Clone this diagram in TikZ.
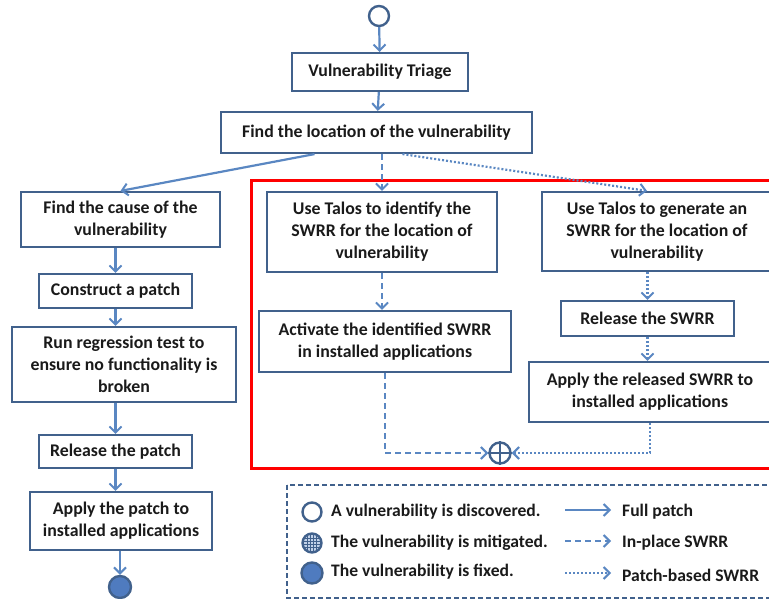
\documentclass[tikz,border=0pt]{standalone}
\usepackage{fontspec}
\setmainfont{Carlito}
\usetikzlibrary{arrows.meta}
\definecolor{boxline}{HTML}{41618C}
\definecolor{flow}{HTML}{5A87C2}
\definecolor{dot}{HTML}{4F7BBF}
\definecolor{ink}{HTML}{1A1A1A}
\tikzset{
  box/.style={draw=boxline, line width=2.2pt, fill=white, align=center,
    font=\fontsize{17.8}{22}\selectfont\bfseries, text=ink, inner sep=0pt},
  flowtip/.style={-{Straight Barb[length=6pt,width=12pt,line width=2pt]}},
  full/.style={flowtip, draw=flow, line width=2.2pt},
  inplace/.style={flowtip, draw=flow, line width=2.2pt, dash pattern=on 6pt off 4pt},
  patchbased/.style={flowtip, draw=flow, line width=2.2pt, dash pattern=on 2pt off 2pt},
  state/.style={circle, draw=boxline, line width=2.4pt, inner sep=0pt, minimum size=20pt},
  legtext/.style={anchor=west, font=\fontsize{17.6}{20}\selectfont\bfseries, text=ink, inner sep=0pt}
}
\begin{document}
\begin{tikzpicture}[x=1pt, y=-1pt]
\useasboundingbox (0,0) rectangle (769,599);

% start and end states
\node[state, fill=white] (start) at (379,16) {};
\node[state, fill=dot, minimum size=22pt] (fixed) at (120,587) {};

% common trunk
\node[box, minimum width=176pt, minimum height=38pt] (triage) at (380,72) {Vulnerability Triage};
\node[box, minimum width=311pt, minimum height=41pt] (findloc) at (376.5,132.5) {Find the location of the vulnerability};

% full patch column
\node[box, minimum width=199pt, minimum height=55pt] (cause) at (120.5,219.5) {Find the cause of the\\vulnerability};
\node[box, minimum width=153pt, minimum height=34pt] (construct) at (115.5,291) {Construct a patch};
\node[box, minimum width=224pt, minimum height=75pt] (regress) at (124,364.5) {Run regression test to\\ensure no functionality is\\broken};
\node[box, minimum width=153pt, minimum height=33pt] (release) at (115.5,451.5) {Release the patch};
\node[box, minimum width=182pt, minimum height=58pt] (applypatch) at (121,521) {Apply the patch to\\installed applications};

% SWRR region
\draw[red, line width=3pt] (251,181) rectangle (790,468);
\node[box, minimum width=230pt, minimum height=80pt] (identify) at (382,232) {Use Talos to identify the\\SWRR for the location of\\vulnerability};
\node[box, minimum width=252pt, minimum height=61pt] (activate) at (385,341.5) {Activate the identified SWRR\\in installed applications};
\node[box, minimum width=230pt, minimum height=79pt] (generate) at (657,231.5) {Use Talos to generate an\\SWRR for the location of\\vulnerability};
\node[box, minimum width=173pt, minimum height=35pt] (relswrr) at (647.5,318.5) {Release the SWRR};
\node[box, minimum width=242pt, minimum height=60pt] (applyrel) at (650,392) {Apply the released SWRR to\\installed applications};

% mitigated state
\node[state, fill=white, minimum size=21pt] (mit) at (500,453) {};
\draw[boxline, line width=2pt] (mit.north) -- (mit.south) (mit.west) -- (mit.east);

% connectors
\draw[full] (start) -- (triage);
\draw[full] (triage) -- (findloc);
\draw[full] ([xshift=-62pt]findloc.south) -- (cause.north);
\draw[full] (cause.south -| construct.north) -- (construct.north);
\draw[full] (construct) -- (construct.south |- regress.north);
\draw[full] (regress.south -| release.north) -- (release.north);
\draw[full] (release) -- (release.south |- applypatch.north);
\draw[full] (applypatch.south -| fixed.north) -- (fixed.north);

\draw[inplace] (findloc.south -| identify.north) -- (identify.north);
\draw[inplace] (identify.south) -- (identify.south |- activate.north);
\draw[inplace] (activate.south) |- (mit.west);

\draw[patchbased] ([xshift=26pt]findloc.south) -- ([xshift=-10pt]generate.north);
\draw[patchbased] (generate.south -| relswrr.north) -- (relswrr.north);
\draw[patchbased] (relswrr.south) -- (relswrr.south |- applyrel.north);
\draw[patchbased] (applyrel.south) |- (mit.east);

% legend
\draw[boxline, line width=2pt, dash pattern=on 5pt off 3pt] (287,485) rectangle (790,598);
\node[state, fill=white, minimum size=19pt] (lgopen) at (312,512) {};
\node[state, fill=dot!35, minimum size=19pt] (lgmit) at (312,543) {};
\begin{scope}
  \clip (312,543) circle (8.5pt);
  \foreach \d in {-4.5,-1.5,1.5,4.5} {
    \draw[boxline, line width=1pt] (312+\d,530) -- (312+\d,556);
    \draw[boxline, line width=1pt] (298,543+\d) -- (326,543+\d);
  }
\end{scope}
\node[state, fill=dot, minimum size=21pt] (lgfixed) at (312,573) {};

\node[legtext] (tdisc) at (331,512) {A vulnerability is discovered.};
\node[legtext] (tmit) at (331,543) {The vulnerability is mitigated.};
\node[legtext] (tfix) at (331,572) {The vulnerability is fixed.};

\coordinate (a1) at (565,510);
\coordinate (a2) at (565,541);
\coordinate (a3) at (565,573);
\node[legtext] (tfull) at (622,512) {Full patch};
\node[legtext] (tinpl) at (622,543) {In-place SWRR};
\node[legtext] (tpatch) at (622,575) {Patch-based SWRR};
\draw[full] (a1) -- ([xshift=-11pt]a1 -| tfull.west);
\draw[inplace] (a2) -- ([xshift=-11pt]a2 -| tinpl.west);
\draw[patchbased] (a3) -- ([xshift=-11pt]a3 -| tpatch.west);
\end{tikzpicture}
\end{document}
